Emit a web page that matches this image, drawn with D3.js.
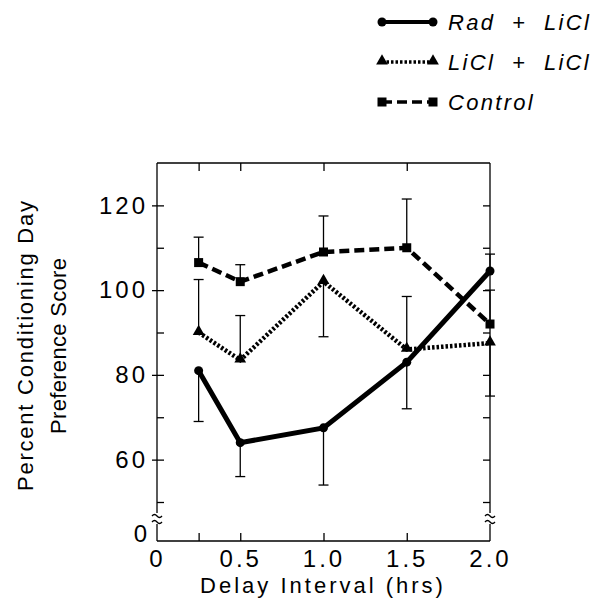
<!DOCTYPE html>
<html>
<head>
<meta charset="utf-8">
<script src="https://cdn.jsdelivr.net/npm/d3@7"></script>
<style>
  body { margin: 0; background: #fff; }
  text { font-family: "Liberation Sans", Arial, sans-serif; fill: #000; }
</style>
</head>
<body>
<div id="chart"></div>
<script>
// Data
var delays = [0.25, 0.5, 1.0, 1.5, 2.0]
var radLiCl = [81, 64, 67.5, 83, 104.5]
var radLiClErr = [69, 56, 54, 72, 108.5]      // end of the one-sided error bar
var liclLiCl = [90, 83.5, 102, 86, 87.5]
var liclLiClErr = [102.5, 94, 89, 98.5, 75]
var control = [106.5, 102, 109, 110, 92]
var controlErr = [112.5, 106, 117.5, 121.5, 100]

var xLabels = [0, 0.5, 1.0, 1.5, 2.0]
var xInnerTicks = [0.25, 0.5, 1.0, 1.5]
var yLabels = [60, 80, 100, 120]
var yTicks = [50, 60, 70, 80, 90, 100, 110, 120]

var seriesNames = ['Rad + LiCl', 'LiCl + LiCl', 'Control']

var width = 605, height = 614
var plotL = 157, plotR = 490, plotT = 163, plotB = 541

var svg = d3.select('#chart').append('svg')
    .attr('width', width)
    .attr('height', height)

var x = d3.scaleLinear().domain([0, 2]).range([plotL, plotR])
var y = d3.scaleLinear().domain([50, 130]).range([502, plotT])

var series = [
  { name: seriesNames[0], values: radLiCl, err: radLiClErr, marker: 'circle', width: 5, dash: null },
  { name: seriesNames[1], values: liclLiCl, err: liclLiClErr, marker: 'triangle', width: 4.5, dash: '2.5,2' },
  { name: seriesNames[2], values: control, err: controlErr, marker: 'square', width: 4.5, dash: '10,5' }
]

// --- frame -----------------------------------------------------------
var frame = svg.append('g').attr('stroke', '#000').attr('stroke-width', 1.3).attr('fill', 'none')
var breakTop = 513, breakBot = 524
frame.append('line').attr('x1', plotL).attr('x2', plotR).attr('y1', plotT).attr('y2', plotT)
frame.append('line').attr('x1', plotL).attr('x2', plotR).attr('y1', plotB).attr('y2', plotB)
;[plotL, plotR].forEach(function (ax) {
  frame.append('line').attr('x1', ax).attr('x2', ax).attr('y1', plotT).attr('y2', breakTop)
  frame.append('line').attr('x1', ax).attr('x2', ax).attr('y1', breakBot).attr('y2', plotB)
  // axis break squiggles
  ;[breakTop + 2, breakBot - 3].forEach(function (by) {
    frame.append('path')
      .attr('d', 'M' + (ax - 5) + ',' + (by + 1) + ' q2.5,-3 5,0 t5,0')
  })
})

// y ticks: labelled ones stick out, all stick in
var yAxisOut = d3.axisLeft(y).tickValues(yLabels).tickSize(5).tickPadding(4)
var gy = svg.append('g').attr('transform', 'translate(' + plotL + ',0)').call(yAxisOut)
gy.select('.domain').remove()
gy.selectAll('line').attr('stroke-width', 1.3)
gy.selectAll('text')
    .attr('font-size', 24)
    .attr('letter-spacing', 3)
    .style('font-family', '"Liberation Sans", Arial, sans-serif')

var yIn = d3.axisLeft(y).tickValues(yTicks).tickSize(-7).tickFormat('')
var gyIn = svg.append('g').attr('transform', 'translate(' + plotL + ',0)').call(yIn)
gyIn.select('.domain').remove()
gyIn.selectAll('line').attr('stroke-width', 1.3)

var yInR = d3.axisRight(y).tickValues(yTicks).tickSize(-7).tickFormat('')
var gyR = svg.append('g').attr('transform', 'translate(' + plotR + ',0)').call(yInR)
gyR.select('.domain').remove()
gyR.selectAll('line').attr('stroke-width', 1.3)

// zero label below the break
svg.append('text')
    .attr('x', plotL - 10).attr('y', plotB + 1)
    .attr('text-anchor', 'end')
    .attr('font-size', 24)
    .text('0')

// x ticks on top and bottom
var xTop = d3.axisTop(x).tickValues(xInnerTicks).tickSize(-8).tickFormat('')
var gxt = svg.append('g').attr('transform', 'translate(0,' + plotT + ')').call(xTop)
gxt.select('.domain').remove()
gxt.selectAll('line').attr('stroke-width', 1.3)

var xBot = d3.axisBottom(x).tickValues(xInnerTicks).tickSize(-8).tickFormat('')
var gxb = svg.append('g').attr('transform', 'translate(0,' + plotB + ')').call(xBot)
gxb.select('.domain').remove()
gxb.selectAll('line').attr('stroke-width', 1.3)

var xLab = d3.axisBottom(x).tickValues(xLabels).tickSize(0).tickPadding(9)
    .tickFormat(function (d) { return d === 0 ? '0' : d3.format('.1f')(d) })
var gxl = svg.append('g').attr('transform', 'translate(0,' + plotB + ')').call(xLab)
gxl.select('.domain').remove()
gxl.selectAll('text')
    .attr('font-size', 24)
    .attr('letter-spacing', 3)
    .style('font-family', '"Liberation Sans", Arial, sans-serif')

// axis titles
svg.append('text')
    .attr('x', 323).attr('y', 593)
    .attr('text-anchor', 'middle')
    .attr('font-size', 22)
    .attr('letter-spacing', 3)
    .text('Delay Interval (hrs)')

var yt = svg.append('g').attr('transform', 'translate(0,346) rotate(-90)')
yt.append('text').attr('x', -145).attr('y', 33)
    .attr('font-size', 22)
    .attr('textLength', 290).attr('lengthAdjust', 'spacing')
    .text('Percent Conditioning Day')
yt.append('text').attr('x', -88).attr('y', 66)
    .attr('font-size', 22)
    .attr('textLength', 176).attr('lengthAdjust', 'spacing')
    .text('Preference Score')

// --- markers -----------------------------------------------------------
function drawMarker (g, type, cx, cy) {
  if (type === 'circle') {
    g.append('circle').attr('cx', cx).attr('cy', cy).attr('r', 4.5)
  } else if (type === 'triangle') {
    g.append('path').attr('d', d3.symbol(d3.symbolTriangle, 60)()).attr('transform', 'translate(' + cx + ',' + (cy - 1) + ')')
  } else {
    g.append('rect').attr('x', cx - 4.5).attr('y', cy - 4.5).attr('width', 9).attr('height', 9)
  }
}

var line = d3.line()
    .x(function (d) { return x(d[0]) })
    .y(function (d) { return y(d[1]) })

// error bars first
series.forEach(function (s) {
  var g = svg.append('g').attr('stroke', '#000').attr('stroke-width', 1.3)
  delays.forEach(function (d, i) {
    g.append('line').attr('x1', x(d)).attr('x2', x(d)).attr('y1', y(s.values[i])).attr('y2', y(s.err[i]))
    g.append('line').attr('x1', x(d) - 5).attr('x2', x(d) + 5).attr('y1', y(s.err[i])).attr('y2', y(s.err[i]))
  })
})

series.forEach(function (s) {
  var pts = delays.map(function (d, i) { return [d, s.values[i]] })
  svg.append('path')
      .datum(pts)
      .attr('d', line)
      .attr('fill', 'none')
      .attr('stroke', '#000')
      .attr('stroke-width', s.width)
      .attr('stroke-dasharray', s.dash)
  var g = svg.append('g').attr('fill', '#000')
  pts.forEach(function (p) { drawMarker(g, s.marker, x(p[0]), y(p[1])) })
})

// --- legend ---------------------------------------------------------------
var legendY = [22, 62, 102]
series.forEach(function (s, i) {
  var g = svg.append('g').attr('transform', 'translate(0,' + legendY[i] + ')')
  g.append('line').attr('x1', 382).attr('x2', 433).attr('y1', 0).attr('y2', 0)
      .attr('stroke', '#000').attr('stroke-width', s.width - 1).attr('stroke-dasharray', s.dash)
  var m = g.append('g').attr('fill', '#000')
  drawMarker(m, s.marker, 382, 0)
  drawMarker(m, s.marker, 433, 0)
  g.append('text')
      .attr('x', 448).attr('y', 8)
      .attr('font-size', 22)
      .attr('font-style', 'italic')
      .attr('letter-spacing', 2.3)
      .attr('xml:space', 'preserve')
      .style('white-space', 'pre')
      .text(s.name.replace(/ \+ /, '  +  '))
})
</script>
</body>
</html>
